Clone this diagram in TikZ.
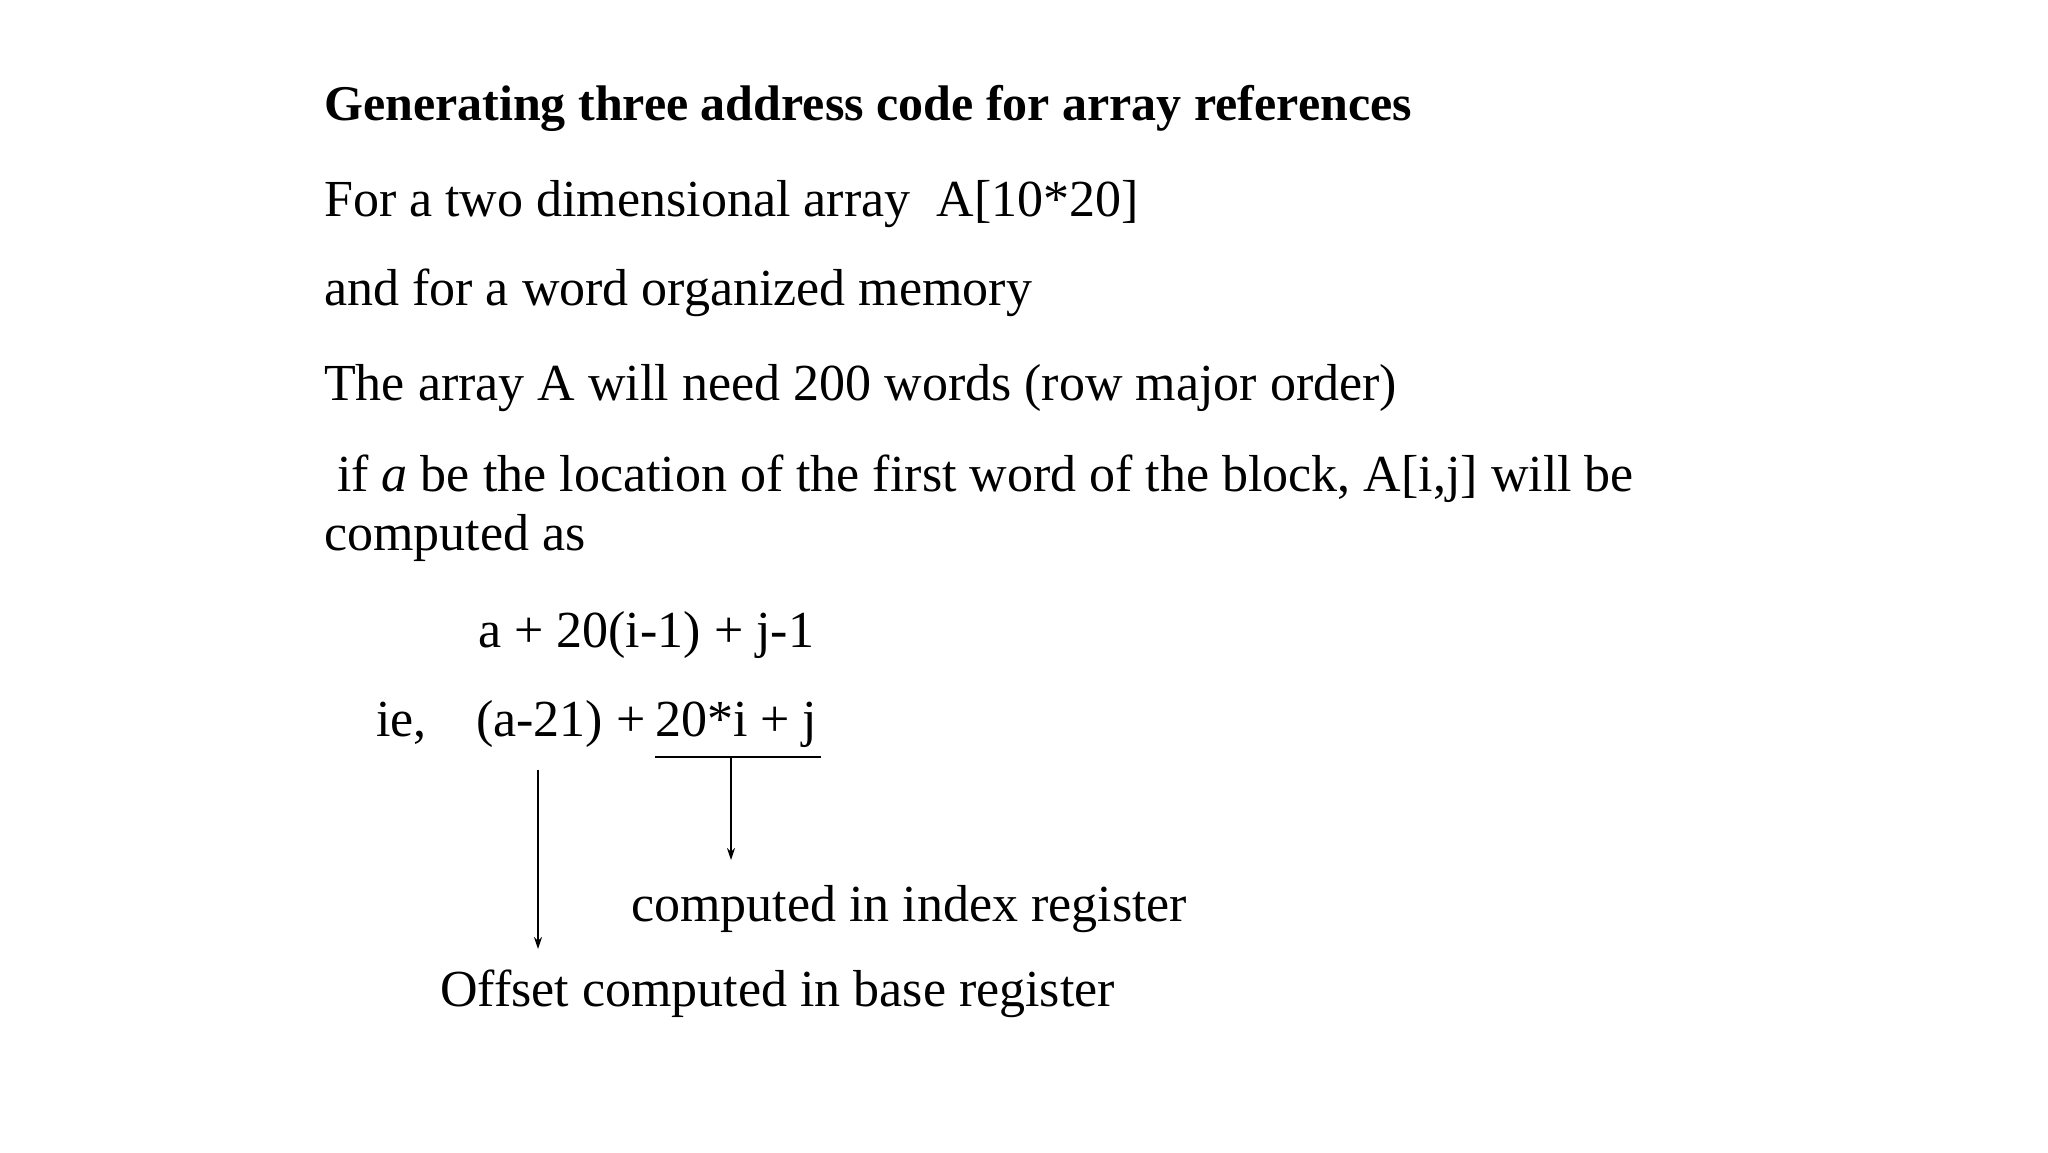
\documentclass[tikz,border=0pt]{standalone}
\usepackage{fontspec}
\setmainfont{Liberation Serif}
\usetikzlibrary{arrows.meta}
\begin{document}
\begin{tikzpicture}[x=1pt,y=-1pt,
  txt/.style={anchor=base west,inner sep=0pt,font=\fontsize{52}{60}\selectfont},
  arr/.style={line width=1.6pt,-{Stealth[length=12pt,width=8pt]}}]
\useasboundingbox (0,0) rectangle (2048,1152);
\node[txt,font=\fontsize{50}{60}\selectfont\bfseries] (title) at (324,120) {Generating three address code for array references};
\node[txt] (l2) at (324,216) {For a two dimensional array\ \ A[10*20]};
\node[txt] (l3) at (324,305) {and for a word organized memory};
\node[txt] (l4) at (324,400) {The array A will need 200 words (row major order)};
\node[txt] (l5) at (337,491) {if \textit{a} be the location of the first word of the block, A[i,j] will be};
\node[txt] (l6) at (324,550) {computed as};
\node[txt] (f1) at (478,647) {a + 20(i-1) + j-1};
\node[txt] (ie) at (376,736) {ie,};
\node[txt] (base) at (476,736) {(a-21) +};
\node[txt] (idx) at (655,736) {20*i + j};
\coordinate (u1) at (655,757);
\coordinate (u2) at (821,757);
\draw[line width=1.6pt] (u1) -- (u2);
\coordinate (a1s) at (731,757);
\coordinate (a1e) at (731,860);
\coordinate (a2s) at (538,770);
\coordinate (a2e) at (538,949);
\draw[arr] (a1s) -- (a1e);
\draw[arr] (a2s) -- (a2e);
\node[txt] (c1) at (631,921) {computed in index register};
\node[txt] (c2) at (440,1006) {Offset computed in base register};
\end{tikzpicture}
\end{document}
